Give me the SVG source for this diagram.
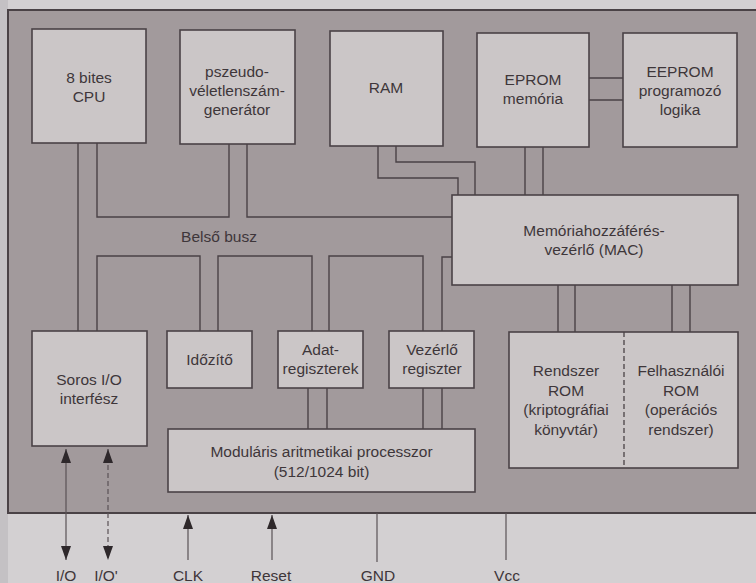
<svg xmlns="http://www.w3.org/2000/svg" width="756" height="583" viewBox="0 0 756 583">
<style>
.box{fill:#cbc6c7;stroke:#4a4246;stroke-width:1.6}
.ln{fill:none;stroke:#4a4246;stroke-width:1.4}
.ext{fill:none;stroke:#5a5256;stroke-width:1.2}
text{font-family:"Liberation Sans",Arial,sans-serif;font-size:15.5px;fill:#3e363a;text-anchor:middle}
</style>
<defs>
<marker id="ah" viewBox="0 0 14 10" refX="14" refY="5" markerWidth="14" markerHeight="10" markerUnits="userSpaceOnUse" orient="auto-start-reverse">
<path d="M0,0 L14,5 L0,10 Z" fill="#2e282b"/>
</marker>
</defs>
<rect x="0" y="0" width="756" height="583" fill="#d3d0d2"/>
<rect x="0" y="0" width="8" height="583" fill="#c4c1c4"/>
<rect id="chip" x="8" y="10" width="760" height="503" fill="#a29a9c" stroke="#4a4246" stroke-width="2"/>

<g id="connectors">
<path class="ln" d="M78,143 V331"/>
<path class="ln" d="M97,143 V217 H229 V144"/>
<path class="ln" d="M247,144 V217 H452"/>
<path class="ln" d="M378,146 V178 H458 V195"/>
<path class="ln" d="M396,146 V162 H475 V195"/>
<path class="ln" d="M525,147 V195 M543,147 V195"/>
<path class="ln" d="M589,78 H623 M589,100 H623"/>
<path class="ln" d="M97,331 V256 H200 V331"/>
<path class="ln" d="M218,331 V256 H312 V331"/>
<path class="ln" d="M329,331 V256 H423 V331"/>
<path class="ln" d="M442,331 V257 H452"/>
<path class="ln" d="M308,388 V429 M327,388 V429"/>
<path class="ln" d="M423,388 V429 M442,388 V429"/>
<path class="ln" d="M558,285 V332 M575,285 V332 M672,285 V332 M690,285 V332"/>
<line class="ext" x1="66" y1="449" x2="66" y2="560" marker-start="url(#ah)" marker-end="url(#ah)"/>
<line class="ext" x1="108" y1="449" x2="108" y2="560" stroke-dasharray="5 3" marker-start="url(#ah)" marker-end="url(#ah)"/>
<line class="ext" x1="188" y1="560" x2="188" y2="515" marker-end="url(#ah)"/>
<line class="ext" x1="272" y1="560" x2="272" y2="515" marker-end="url(#ah)"/>
<line class="ext" x1="377" y1="513" x2="377" y2="562"/>
<line class="ext" x1="506" y1="513" x2="506" y2="560"/>
</g>

<g id="cpu"><rect class="box" x="32" y="29" width="114" height="114"/><text x="89" y="83">8 bites</text><text x="89" y="102">CPU</text></g>
<g id="prng"><rect class="box" x="180" y="30" width="115" height="114"/><text x="237" y="77">pszeudo-</text><text x="237" y="96">véletlenszám-</text><text x="237" y="115">generátor</text></g>
<g id="ram"><rect class="box" x="330" y="31" width="113" height="115"/><text x="386" y="93">RAM</text></g>
<g id="eprom"><rect class="box" x="477" y="33" width="112" height="114"/><text x="533" y="85">EPROM</text><text x="533" y="104">memória</text></g>
<g id="eeprom"><rect class="box" x="623" y="33" width="114" height="114"/><text x="680" y="77">EEPROM</text><text x="680" y="96">programozó</text><text x="680" y="115">logika</text></g>
<g id="mac"><rect class="box" x="452" y="195" width="286" height="90"/><text x="594" y="236">Memóriahozzáférés-</text><text x="594" y="255">vezérlő (MAC)</text></g>
<g id="bus"><text x="219" y="242">Belső busz</text></g>
<g id="soros"><rect class="box" x="32" y="331" width="115" height="115"/><text x="89" y="385">Soros I/O</text><text x="89" y="404">interfész</text></g>
<g id="idozito"><rect class="box" x="167" y="331" width="85" height="57"/><text x="209.5" y="365">Időzítő</text></g>
<g id="adat"><rect class="box" x="278" y="331" width="85" height="57"/><text x="320.5" y="355">Adat-</text><text x="320.5" y="374">regiszterek</text></g>
<g id="vezerlo"><rect class="box" x="389" y="331" width="85" height="57"/><text x="432" y="355">Vezérlő</text><text x="432" y="374">regiszter</text></g>
<g id="map"><rect class="box" x="168" y="429" width="307" height="63"/><text x="321.5" y="457">Moduláris aritmetikai processzor</text><text x="321.5" y="477">(512/1024 bit)</text></g>
<g id="rom"><rect class="box" x="509" y="332" width="229" height="136"/>
<line x1="624" y1="332" x2="624" y2="468" stroke="#4a4246" stroke-width="1.3" stroke-dasharray="5 3"/>
<text x="566" y="376">Rendszer</text><text x="566" y="395.5">ROM</text><text x="566" y="415">(kriptográfiai</text><text x="566" y="434.5">könyvtár)</text>
<text x="681" y="376">Felhasználói</text><text x="681" y="395.5">ROM</text><text x="681" y="415">(operációs</text><text x="681" y="434.5">rendszer)</text></g>

<g id="labels">
<text x="66" y="581">I/O</text>
<text x="106" y="581">I/O'</text>
<text x="188" y="581">CLK</text>
<text x="271" y="581">Reset</text>
<text x="378" y="581">GND</text>
<text x="507" y="581">Vcc</text>
</g>
</svg>
